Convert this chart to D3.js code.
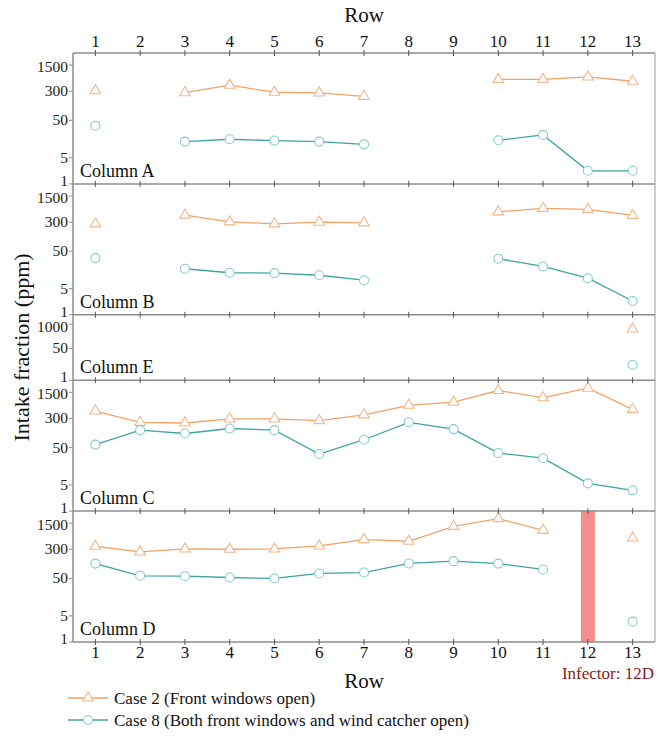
<!DOCTYPE html>
<html><head><meta charset="utf-8">
<script src="https://cdn.jsdelivr.net/npm/d3@7"></script>
<style>body{margin:0;background:#fff}</style>
</head><body><svg id="c" width="657" height="737"></svg>
<script>
const rows = [1,2,3,4,5,6,7,8,9,10,11,12,13];
const panelNames = ["Column A","Column B","Column E","Column C","Column D"];
const panelSizes = [1,1,0.5,1,1];
const fullTicks = [1,5,50,300,1500];
const halfTicks = [1,50,1000];
// Case 2 (Front windows open)
const case2A = [310,null,275,435,282,270,220,null,null,620,620,725,556];
const case2B = [270,null,462,305,270,300,287,null,null,567,700,658,454];
const case2E = [null,null,null,null,null,null,null,null,null,null,null,null,550];
const case2C = [475,237,227,292,292,263,376,676,817,1678,1078,1940,526];
const case2D = [363,256,308,302,308,370,548,494,1240,1990,970,null,605];
// Case 8 (Both front windows and wind catcher open)
const case8A = [36,null,13.5,15.6,14.4,13.5,11.4,null,null,14.7,20.4,2.24,2.24];
const case8B = [32.8,null,17,13.3,13,11.4,8.4,null,null,31.6,19.6,9.5,2.34];
const case8E = [null,null,null,null,null,null,null,null,null,null,null,null,6.7];
const case8C = [60,146,119,162,146,33.6,81,237,156,35.7,26,5.5,3.6];
const case8D = [125,59,57.5,53,50,68,72,126,145,125,87,null,3.5];
const infectorRow = 12;
const legendLabels = ["Case 2 (Front windows open)","Case 8 (Both front windows and wind catcher open)"];

const case2 = [case2A,case2B,case2E,case2C,case2D];
const case8 = [case8A,case8B,case8E,case8C,case8D];

(function(){
const cv = document.createElement("canvas").getContext("2d");
const probe = "Row Column Intake fraction 1234567890 mmmwwwiii";
function w(f){ cv.font = "32px " + f; return cv.measureText(probe).width; }
const cands = ["Liberation Serif","Tinos","Times New Roman","Nimbus Roman","DejaVu Serif","Noto Serif","FreeSerif"];
let fam = "serif";
for (const c of cands){
  const a = w(`"${c}", monospace`), b = w("monospace"), a2 = w(`"${c}", sans-serif`), b2 = w("sans-serif");
  if (a !== b || a2 !== b2){ fam = `"${c}", serif`; break; }
}
const svg = d3.select("#c").attr("font-family", fam);
const L = 73, R = 655, T = 53, B = 642;
const orange = "#f2a267", orangeM = "#f5b68a", teal = "#3fa3a3", tealM = "#82cccc", axisC = "#8c8c8c";
const x = d3.scaleLinear().domain([0.5,13.5]).range([L,R]);
const unit = (B-T)/d3.sum(panelSizes);

let yPos = T;
const panels = panelSizes.map((s,i)=>{ const p={i,top:yPos,h:s*unit}; yPos += s*unit; return p; });

const pD = panels[4];
svg.append("rect").attr("x", x(infectorRow)-7).attr("width",14)
  .attr("y", pD.top).attr("height", pD.h).attr("fill","#f38e8e");

const tri = d3.symbol().type(d3.symbolTriangle).size(48);

panels.forEach(p=>{
  const y = d3.scaleLog().domain([1, Math.pow(10,3.5)]).range([p.top+p.h, p.top]);
  const g = svg.append("g");
  const ticks = p.i===2 ? halfTicks : fullTicks;
  ticks.forEach(t=>{
    g.append("line").attr("x1",L-4).attr("x2",L).attr("y1",y(t)).attr("y2",y(t)).attr("stroke",axisC).attr("stroke-width",1);
    let ty = y(t)+5;
    if (t===1) ty -= 3;
    if (t===1500) ty += 2;
    if (t===1000) ty += 3;
    g.append("text").attr("x",L-5).attr("y",ty).attr("text-anchor","end").attr("font-size",15.5).attr("fill","#222").text(t);
  });
  g.append("text").attr("x",80).attr("y",p.top+p.h-7).attr("font-size",18).attr("fill","#111").text(panelNames[p.i]);
  const series = [[case2[p.i],orange,orangeM,"tri"],[case8[p.i],teal,tealM,"circ"]];
  series.forEach(([vals,lc,mc,shape])=>{
    const pts = rows.map((r,k)=>({r, v: vals[k]}));
    const line = d3.line().defined(d=>d.v!=null).x(d=>x(d.r)).y(d=>y(d.v));
    g.append("path").attr("d",line(pts)).attr("fill","none").attr("stroke",lc).attr("stroke-width",1.3);
    pts.filter(d=>d.v!=null).forEach(d=>{
      if(shape==="tri"){
        g.append("path").attr("d",tri()).attr("transform",`translate(${x(d.r)},${y(d.v)})`)
          .attr("fill","#fff").attr("stroke",mc).attr("stroke-width",1.1);
      } else {
        g.append("circle").attr("cx",x(d.r)).attr("cy",y(d.v)).attr("r",4.5)
          .attr("fill","#fff").attr("stroke",mc).attr("stroke-width",1.1);
      }
    });
  });
});

const fr = svg.append("g");
fr.append("line").attr("x1",L).attr("x2",L).attr("y1",T).attr("y2",B).attr("stroke",axisC).attr("stroke-width",1.5);
fr.append("line").attr("x1",R).attr("x2",R).attr("y1",T).attr("y2",B).attr("stroke","#bbb").attr("stroke-width",1.5);
const bounds = [T].concat(panels.map(p=>p.top+p.h));
bounds.forEach(b=>{
  fr.append("line").attr("x1",L).attr("x2",R).attr("y1",b).attr("y2",b).attr("stroke",axisC).attr("stroke-width",1.5);
  rows.forEach(r=>{
    fr.append("line").attr("x1",x(r)).attr("x2",x(r)).attr("y1",b-3).attr("y2",b+3).attr("stroke","#555").attr("stroke-width",1);
  });
});

rows.forEach(r=>{
  svg.append("text").attr("x",x(r)).attr("y",47).attr("text-anchor","middle").attr("font-size",17).attr("fill","#111").text(r);
  svg.append("text").attr("x",x(r)).attr("y",658).attr("text-anchor","middle").attr("font-size",17).attr("fill","#111").text(r);
});
svg.append("text").attr("x",(L+R)/2).attr("y",22).attr("text-anchor","middle").attr("font-size",21).attr("fill","#111").text("Row");
svg.append("text").attr("x",(L+R)/2).attr("y",688).attr("text-anchor","middle").attr("font-size",21).attr("fill","#111").text("Row");
svg.append("text").attr("x",R-1).attr("y",679).attr("text-anchor","end").attr("font-size",17).attr("fill","#8b1a1a").text("Infector: 12D");
svg.append("text").attr("transform",`translate(29,${(T+B)/2}) rotate(-90)`).attr("text-anchor","middle").attr("font-size",22).attr("fill","#111").text("Intake fraction (ppm)");

[[orange,orangeM,"tri",698],[teal,tealM,"circ",720]].forEach(([lc,mc,shape,ly],i)=>{
  svg.append("line").attr("x1",68).attr("x2",108).attr("y1",ly).attr("y2",ly).attr("stroke",lc).attr("stroke-width",1.3);
  if(shape==="tri") svg.append("path").attr("d",tri()).attr("transform",`translate(88,${ly})`).attr("fill","#fff").attr("stroke",mc).attr("stroke-width",1.1);
  else svg.append("circle").attr("cx",88).attr("cy",ly).attr("r",4.5).attr("fill","#fff").attr("stroke",mc).attr("stroke-width",1.1);
  svg.append("text").attr("x",114).attr("y",ly+6).attr("font-size",17).attr("fill","#111").text(legendLabels[i]);
});
})();
</script></body></html>
